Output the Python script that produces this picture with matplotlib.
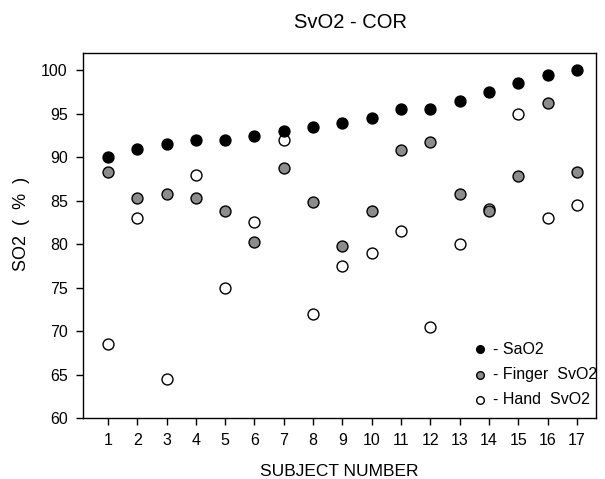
import matplotlib
matplotlib.use('Agg')
import matplotlib.pyplot as plt

plt.rcParams['font.family'] = ['Liberation Sans', 'DejaVu Sans']

subjects = list(range(1, 18))
sao2 = [90, 91, 91.5, 92, 92, 92.5, 93, 93.5, 94, 94.5, 95.5, 95.5, 96.5, 97.5, 98.5, 99.5, 100]
finger_svo2 = [88.3, 85.3, 85.8, 85.3, 83.8, 80.3, 88.8, 84.8, 79.8, 83.8, 90.8, 91.8, 85.8, 83.8, 87.8, 96.3, 88.3]
hand_svo2 = [68.5, 83, 64.5, 88, 75, 82.5, 92, 72, 77.5, 79, 81.5, 70.5, 80, 84, 95, 83, 84.5]
yticks = [60, 65, 70, 75, 80, 85, 90, 95, 100]

fig = plt.figure(figsize=(6.05, 4.79), dpi=100)
ax = fig.add_axes([83/605, 1-418/479, (596-83)/605, (418-53)/479])

ax.scatter(subjects, hand_svo2, s=62, facecolor='white', edgecolor='black', linewidth=1, zorder=3, label='- Hand  SvO2')
ax.scatter(subjects, finger_svo2, s=62, facecolor='#8c8c8c', edgecolor='black', linewidth=1, zorder=4, label='- Finger  SvO2')
ax.scatter(subjects, sao2, s=62, facecolor='black', edgecolor='black', linewidth=1, zorder=5, label='- SaO2')

ax.set_xlim(0.15, 17.65)
ax.set_ylim(60, 102)
ax.set_xticks(subjects)
ax.set_yticks(yticks)
ax.tick_params(direction='out', length=5, width=1, labelsize=11.5, pad=6)
for sp in ax.spines.values():
    sp.set_linewidth(1)

ax.set_xlabel('SUBJECT NUMBER', fontsize=12.5, labelpad=11)
# y label drawn as figure text so its centre matches the reference
fig.text(22/605, 1-224/479, 'SO2  (  %  )', rotation=90, ha='center', va='center', fontsize=13)
fig.text(350/605, 1-22/479, 'SvO2 - COR', ha='center', va='center', fontsize=14.5)

h, l = ax.get_legend_handles_labels()
ax.legend(h[::-1], l[::-1], loc='lower right', bbox_to_anchor=(1.03, -0.01), frameon=False,
          fontsize=11.5, handlelength=1.0, handletextpad=0.3, labelspacing=0.65,
          scatterpoints=1, markerscale=0.7)

fig.savefig('out.png', dpi=100)
